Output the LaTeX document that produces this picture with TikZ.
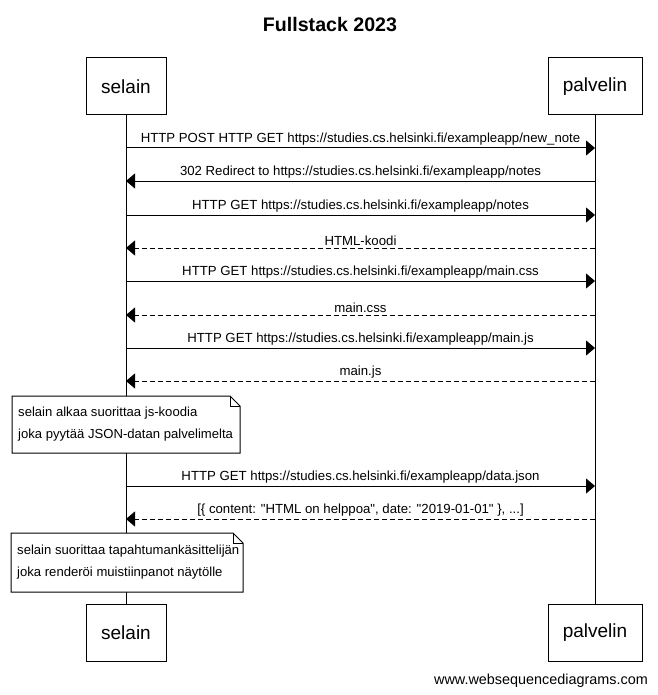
\documentclass[tikz,border=0pt]{standalone}
\usepackage{fontspec}
\setmainfont{Liberation Sans}[Ligatures=TeXOff]
\usetikzlibrary{arrows.meta}
\begin{document}
\begin{tikzpicture}[x=1pt,y=-1pt,
  actor/.style={draw,line width=1pt,minimum width=80pt,minimum height=57pt,inner sep=0pt,font=\fontsize{19}{21}\selectfont},
  life/.style={line width=1pt},
  msg/.style={line width=1pt,-{Triangle[length=9pt,width=15pt]}},
  ret/.style={msg,dash pattern=on 5pt off 3pt},
  lbl/.style={font=\fontsize{13.2}{15}\selectfont,above=0pt,inner sep=2pt},
  notebox/.style={line width=1pt,fill=white},
  notetext/.style={font=\fontsize{13.1}{22}\selectfont,align=left,anchor=west,inner sep=0pt}]
\path[use as bounding box,fill=white] (0,0) rectangle (657,695);
\node[font=\bfseries\fontsize{19.6}{22}\selectfont] (title) at (330,25) {Fullstack 2023};
% actors
\node[actor] (s) at (126,86.5) {selain};
\node[actor,minimum width=94pt] (p) at (595,86.5) {palvelin};
\node[actor] (sb) at (126,632.5) {selain};
\node[actor,minimum width=94pt] (pb) at (595,632.5) {palvelin};
\draw[life] (s.south) -- (sb.north);
\draw[life] (p.south) -- (pb.north);
% message coordinates
\foreach \n/\y in {1/148,2/181,3/215,4/248,5/281,6/315,7/348,8/381,9/486,10/519}{
  \coordinate (s\n) at (126,\y);
  \coordinate (p\n) at (595,\y);
}
\draw[msg] (s1) -- node[lbl]{HTTP POST HTTP GET https://studies.cs.helsinki.fi/exampleapp/new\_note} (p1);
\draw[msg] (p2) -- node[lbl]{302 Redirect to https://studies.cs.helsinki.fi/exampleapp/notes} (s2);
\draw[msg] (s3) -- node[lbl]{HTTP GET https://studies.cs.helsinki.fi/exampleapp/notes} (p3);
\draw[ret] (p4) -- node[lbl]{HTML-koodi} (s4);
\draw[msg] (s5) -- node[lbl]{HTTP GET https://studies.cs.helsinki.fi/exampleapp/main.css} (p5);
\draw[ret] (p6) -- node[lbl]{main.css} (s6);
\draw[msg] (s7) -- node[lbl]{HTTP GET https://studies.cs.helsinki.fi/exampleapp/main.js} (p7);
\draw[ret] (p8) -- node[lbl]{main.js} (s8);
\draw[msg] (s9) -- node[lbl]{HTTP GET https://studies.cs.helsinki.fi/exampleapp/data.json} (p9);
\draw[ret] (p10) -- node[lbl]{[\{ content: "HTML on helppoa", date: "2019-01-01" \}, ...]} (s10);
% notes
\draw[notebox] (12,396) -- (230,396) -- (240,406) -- (240,453) -- (12,453) -- cycle;
\draw[line width=1pt] (230,396) -- (230,406) -- (240,406);
\node[notetext] (n1) at (18,424.5) {selain alkaa suorittaa js-koodia\\joka pyytää JSON-datan palvelimelta};
\draw[notebox] (11,533) -- (233,533) -- (243,543) -- (243,592) -- (11,592) -- cycle;
\draw[line width=1pt] (233,533) -- (233,543) -- (243,543);
\node[notetext] (n2) at (17,562.5) {selain suorittaa tapahtumankäsittelijän\\joka renderöi muistiinpanot näytölle};
\node[font=\fontsize{14.4}{16}\selectfont,anchor=east,inner sep=0pt] (web) at (648,681) {www.websequencediagrams.com};
\end{tikzpicture}
\end{document}
